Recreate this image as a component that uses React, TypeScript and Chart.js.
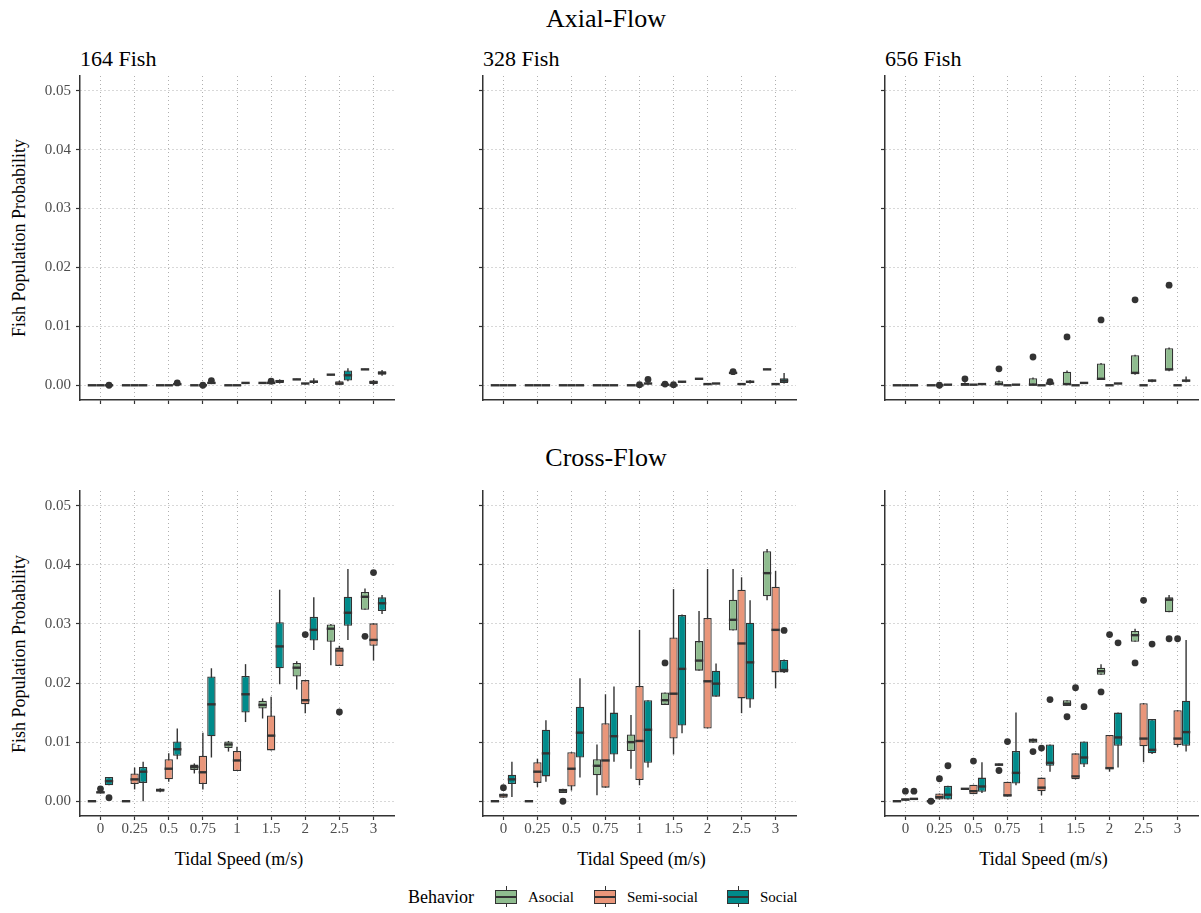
import React, { useEffect, useRef } from 'react';
import { Chart, registerables } from 'chart.js';

Chart.register(...registerables);

const SPEEDS = ['0', '0.25', '0.5', '0.75', '1', '1.5', '2', '2.5', '3'];
const Y_TICKS = [0, 0.01, 0.02, 0.03, 0.04, 0.05];
const BEHAVIORS = ['Asocial', 'Semi-social', 'Social'];
const COLORS = ['#8FBC8F', '#E9967A', '#008B8B'];
const DODGE_WIDTH = 0.75;

// Each box: [lower whisker, Q1, median, Q3, upper whisker]
const axial164Asocial = [
  [0, 0, 0, 0, 0], [0, 0, 0, 0, 0], [0, 0, 0, 0, 0], [0, 0, 0, 0, 0], [0, 0, 0, 0, 0],
  [0.0003, 0.0003, 0.0004, 0.0004, 0.0005], [0.0009, 0.0009, 0.001, 0.001, 0.0011],
  [0.0017, 0.0017, 0.0018, 0.0018, 0.0019], [0.0026, 0.0026, 0.0027, 0.0027, 0.0028],
];
const axial164Semi = [
  [0, 0, 0, 0, 0], [0, 0, 0, 0, 0], [0, 0, 0, 0, 0], [0, 0, 0, 0, 0], [0, 0, 0, 0, 0],
  [0.0002, 0.0003, 0.0004, 0.0005, 0.0006], [0.0001, 0.0002, 0.0003, 0.0003, 0.0004],
  [0, 0.0001, 0.0003, 0.0007, 0.0008], [0, 0.0002, 0.0005, 0.0008, 0.0009],
];
const axial164Social = [
  [0, 0, 0, 0, 0], [0, 0, 0, 0.0001, 0.0001], [0, 0.0001, 0.0002, 0.0003, 0.0003],
  [0.0002, 0.0003, 0.0004, 0.0005, 0.0006], [0.0002, 0.0003, 0.0004, 0.0004, 0.0005],
  [0.0003, 0.0004, 0.0007, 0.0009, 0.001], [0.0002, 0.0004, 0.0006, 0.0008, 0.0012],
  [0.0007, 0.0008, 0.0017, 0.0025, 0.0029], [0.0016, 0.0018, 0.0021, 0.0024, 0.0026],
];
// [speed index, behavior index, value]
const axial164Outliers = [
  [0, 2, 0], [2, 2, 0.0004], [3, 1, 0], [3, 2, 0.0008], [5, 1, 0.0007],
];

const axial328Asocial = [
  [0, 0, 0, 0, 0], [0, 0, 0, 0, 0], [0, 0, 0, 0, 0], [0, 0, 0, 0, 0], [0, 0, 0, 0, 0],
  [0, 0.0001, 0.0001, 0.0002, 0.0002], [0.001, 0.001, 0.0011, 0.0011, 0.0012],
  [0.0019, 0.002, 0.0021, 0.0022, 0.0022], [0.0026, 0.0026, 0.0027, 0.0027, 0.0028],
];
const axial328Semi = [
  [0, 0, 0, 0, 0], [0, 0, 0, 0, 0], [0, 0, 0, 0, 0], [0, 0, 0, 0, 0], [0, 0, 0, 0, 0],
  [0, 0, 0, 0, 0], [0.0001, 0.0001, 0.0002, 0.0002, 0.0003],
  [0.0001, 0.0001, 0.0002, 0.0002, 0.0003], [0.0001, 0.0002, 0.0002, 0.0003, 0.0003],
];
const axial328Social = [
  [0, 0, 0, 0, 0], [0, 0, 0, 0, 0], [0, 0, 0, 0, 0], [0, 0, 0, 0, 0],
  [0.0001, 0.0002, 0.0003, 0.0004, 0.0005], [0.0004, 0.0005, 0.0006, 0.0006, 0.0007],
  [0.0002, 0.0002, 0.0003, 0.0003, 0.0004], [0.0003, 0.0004, 0.0006, 0.0007, 0.0009],
  [0.0003, 0.0004, 0.0008, 0.0012, 0.0021],
];
const axial328Outliers = [
  [4, 1, 0.0001], [4, 2, 0.001], [5, 0, 0.0002], [5, 1, 0.0001], [7, 0, 0.0023],
];

const axial656Asocial = [
  [0, 0, 0, 0, 0], [0, 0, 0, 0, 0], [0, 0, 0.0001, 0.0004, 0.0005],
  [0, 0, 0.0002, 0.0007, 0.0008], [0, 0, 0.0001, 0.0012, 0.0013],
  [0, 0.0001, 0.0002, 0.0023, 0.0025], [0.0009, 0.001, 0.0011, 0.0037, 0.0038],
  [0.0018, 0.0019, 0.0021, 0.0051, 0.0052], [0.0024, 0.0025, 0.0027, 0.0063, 0.0064],
];
const axial656Semi = [
  [0, 0, 0, 0, 0], [0, 0, 0, 0, 0], [0, 0, 0.0001, 0.0001, 0.0002], [0, 0, 0, 0, 0],
  [0, 0, 0, 0, 0], [0, 0, 0, 0, 0], [0, 0, 0, 0, 0], [0, 0, 0, 0, 0], [0, 0, 0, 0, 0],
];
const axial656Social = [
  [0, 0, 0, 0, 0], [0, 0, 0.0001, 0.0001, 0.0002], [0.0001, 0.0001, 0.0002, 0.0003, 0.0003],
  [0, 0, 0.0001, 0.0001, 0.0002], [0.0001, 0.0002, 0.0003, 0.0003, 0.0004],
  [0.0002, 0.0003, 0.0004, 0.0004, 0.0005], [0.0002, 0.0002, 0.0003, 0.0004, 0.0004],
  [0.0005, 0.0006, 0.0008, 0.0009, 0.001], [0.0005, 0.0006, 0.0008, 0.0009, 0.0015],
];
const axial656Outliers = [
  [1, 1, 0], [2, 0, 0.0011], [3, 0, 0.0028], [4, 0, 0.0048], [4, 2, 0.0006],
  [5, 0, 0.0082], [6, 0, 0.0111], [7, 0, 0.0145], [8, 0, 0.017],
];

const cross164Asocial = [
  [0, 0, 0, 0, 0], [0, 0, 0, 0, 0], [0.0015, 0.0016, 0.0019, 0.0021, 0.0022],
  [0.0047, 0.0053, 0.0058, 0.0062, 0.0064], [0.0084, 0.009, 0.0096, 0.0101, 0.0102],
  [0.014, 0.0157, 0.0163, 0.017, 0.0174], [0.0189, 0.0211, 0.0226, 0.0234, 0.0237],
  [0.023, 0.027, 0.0292, 0.0299, 0.03], [0.0324, 0.0324, 0.0346, 0.0354, 0.036],
];
const cross164Semi = [
  [0.0013, 0.0014, 0.0015, 0.0017, 0.0018], [0.002, 0.0029, 0.0037, 0.0047, 0.0057],
  [0.0033, 0.0037, 0.0055, 0.0071, 0.0081], [0.002, 0.0029, 0.0049, 0.0077, 0.0116],
  [0.0051, 0.0051, 0.0069, 0.0085, 0.0092], [0.0086, 0.0086, 0.0111, 0.0145, 0.0177],
  [0.0149, 0.0164, 0.0171, 0.0205, 0.0205], [0.0229, 0.0229, 0.0255, 0.026, 0.0263],
  [0.0238, 0.0263, 0.0273, 0.0301, 0.0301],
];
const cross164Social = [
  [0.0027, 0.0027, 0.0034, 0.0041, 0.0041], [0, 0.0031, 0.005, 0.0058, 0.0067],
  [0.0071, 0.0077, 0.0088, 0.0101, 0.0123], [0.0074, 0.011, 0.0164, 0.0211, 0.0225],
  [0.0134, 0.015, 0.0181, 0.0212, 0.0232], [0.0198, 0.0225, 0.0262, 0.0303, 0.0358],
  [0.0256, 0.0272, 0.029, 0.0312, 0.0345], [0.0273, 0.0297, 0.0319, 0.0346, 0.0393],
  [0.0317, 0.0322, 0.0335, 0.0345, 0.0349],
];
const cross164Outliers = [
  [0, 1, 0.0021], [0, 2, 0.0006], [6, 1, 0.0282], [7, 1, 0.0151], [8, 0, 0.0279], [8, 1, 0.0387],
];

const cross328Asocial = [
  [0, 0, 0, 0, 0], [0, 0, 0, 0, 0], [0.0014, 0.0014, 0.0018, 0.0021, 0.0021],
  [0.001, 0.0044, 0.006, 0.0071, 0.0096], [0.0055, 0.0085, 0.01, 0.0113, 0.0146],
  [0.0163, 0.0163, 0.0171, 0.0184, 0.0184], [0.0221, 0.0221, 0.0238, 0.0271, 0.0322],
  [0.0289, 0.0289, 0.0307, 0.0341, 0.0393], [0.034, 0.0347, 0.0386, 0.0423, 0.0427],
];
const cross328Semi = [
  [0.0006, 0.0006, 0.001, 0.0013, 0.0013], [0.0024, 0.0031, 0.005, 0.0066, 0.0072],
  [0.0018, 0.0025, 0.0055, 0.0083, 0.0083], [0.0023, 0.0023, 0.0069, 0.0132, 0.0181],
  [0.0027, 0.0036, 0.0102, 0.0195, 0.029], [0.0079, 0.0106, 0.0182, 0.0277, 0.0359],
  [0.0123, 0.0123, 0.0203, 0.031, 0.0393], [0.0149, 0.0174, 0.0267, 0.0358, 0.0379],
  [0.0191, 0.0218, 0.029, 0.0363, 0.039],
];
const cross328Social = [
  [0.0007, 0.0029, 0.0037, 0.0045, 0.0067], [0.0033, 0.0042, 0.0081, 0.0121, 0.0137],
  [0.004, 0.0074, 0.0116, 0.016, 0.0208], [0.0067, 0.0079, 0.011, 0.015, 0.0194],
  [0.0057, 0.0065, 0.0121, 0.0171, 0.0171], [0.0115, 0.0128, 0.0224, 0.0315, 0.0316],
  [0.0177, 0.0177, 0.0199, 0.0221, 0.0233], [0.0158, 0.0172, 0.0235, 0.0302, 0.034],
  [0.0217, 0.0218, 0.0222, 0.0239, 0.024],
];
const cross328Outliers = [
  [0, 1, 0.0023], [2, 0, 0], [5, 0, 0.0234], [8, 2, 0.0289],
];

const cross656Asocial = [
  [0, 0, 0, 0, 0], [0, 0, 0, 0, 0], [0.002, 0.002, 0.0021, 0.0022, 0.0022],
  [0.006, 0.006, 0.0062, 0.0064, 0.0064], [0.0099, 0.0099, 0.0103, 0.0106, 0.0106],
  [0.0161, 0.0161, 0.0165, 0.0171, 0.0171], [0.0214, 0.0214, 0.022, 0.0226, 0.0232],
  [0.027, 0.027, 0.0281, 0.0288, 0.0292], [0.032, 0.032, 0.0341, 0.0345, 0.0349],
];
const cross656Semi = [
  [0.0001, 0.0001, 0.0003, 0.0004, 0.0004], [0.0003, 0.0003, 0.0007, 0.0013, 0.0013],
  [0.0012, 0.0012, 0.0017, 0.0028, 0.0028], [0.0008, 0.0008, 0.001, 0.0033, 0.0033],
  [0.001, 0.0017, 0.0023, 0.004, 0.004], [0.0037, 0.0037, 0.0042, 0.0081, 0.0081],
  [0.005, 0.0054, 0.0056, 0.0112, 0.0112], [0.0066, 0.0093, 0.0106, 0.0166, 0.0166],
  [0.0092, 0.0095, 0.0106, 0.0154, 0.0154],
];
const cross656Social = [
  [0.0002, 0.0002, 0.0004, 0.0005, 0.0005], [0.0003, 0.0003, 0.0011, 0.0026, 0.0026],
  [0.0014, 0.0016, 0.0025, 0.004, 0.0066], [0.0027, 0.003, 0.0048, 0.0085, 0.015],
  [0.005, 0.006, 0.0065, 0.0096, 0.0096], [0.0058, 0.0062, 0.0074, 0.0101, 0.0101],
  [0.0057, 0.0094, 0.0108, 0.015, 0.015], [0.008, 0.0081, 0.0087, 0.0139, 0.0139],
  [0.0084, 0.0094, 0.0117, 0.017, 0.0273],
];
const cross656Outliers = [
  [0, 1, 0.0017], [0, 2, 0.0017], [1, 0, 0], [1, 1, 0.0038], [1, 2, 0.006],
  [2, 1, 0.0068], [3, 0, 0.0052], [3, 1, 0.0101], [4, 0, 0.0084], [4, 1, 0.009],
  [4, 2, 0.0172], [5, 0, 0.0143], [5, 1, 0.0192], [5, 2, 0.016], [6, 0, 0.0185],
  [6, 1, 0.0282], [6, 2, 0.0268], [7, 0, 0.0234], [7, 1, 0.034], [7, 2, 0.0266],
  [8, 0, 0.0275], [8, 1, 0.0275],
];

const FONT = '"Liberation Serif", "Times New Roman", Times, serif';
const DARK = '#333333';

const boxplotPlugin = {
  id: 'boxplotParts',
  beforeDatasetsDraw(chart: any) {
    const y = chart.scales.y;
    const ctx = chart.ctx;
    chart.data.datasets.forEach((ds: any, di: number) => {
      if (!ds.stats) return;
      const meta = chart.getDatasetMeta(di);
      ctx.save();
      ctx.strokeStyle = DARK;
      ctx.lineWidth = 1.4;
      meta.data.forEach((el: any, i: number) => {
        const s = ds.stats[i];
        if (s[0] === s[4]) return;
        ctx.beginPath();
        ctx.moveTo(el.x, y.getPixelForValue(s[0]));
        ctx.lineTo(el.x, y.getPixelForValue(s[4]));
        ctx.stroke();
      });
      ctx.restore();
    });
  },
  afterDatasetsDraw(chart: any) {
    const y = chart.scales.y;
    const ctx = chart.ctx;
    chart.data.datasets.forEach((ds: any, di: number) => {
      if (!ds.stats) return;
      const meta = chart.getDatasetMeta(di);
      ctx.save();
      ctx.strokeStyle = DARK;
      ctx.lineWidth = 2.4;
      meta.data.forEach((el: any, i: number) => {
        const s = ds.stats[i];
        const py = y.getPixelForValue(s[2]);
        ctx.beginPath();
        ctx.moveTo(el.x - el.width / 2, py);
        ctx.lineTo(el.x + el.width / 2, py);
        ctx.stroke();
      });
      ctx.restore();
    });
  },
};

const Y_LABEL_W = 60;
const TOP_PAD = 14;
const X_AXIS_H = 30;

type PanelProps = {
  left: number; top: number; plotW: number; plotH: number;
  stats: number[][][]; outliers: number[][]; showY: boolean; showX: boolean;
};

function Panel({ left, top, plotW, plotH, stats, outliers, showY, showX }: PanelProps) {
  const ref = useRef<HTMLCanvasElement>(null);
  const cw = Y_LABEL_W + plotW;
  const ch = TOP_PAD + plotH + X_AXIS_H;
  useEffect(() => {
    if (!ref.current) return;
    const datasets: any[] = stats.map((s, g) => ({
      type: 'bar',
      label: BEHAVIORS[g],
      data: s.map((v, i) => ({ x: i, y: [v[1], v[3]] })),
      stats: s,
      backgroundColor: COLORS[g],
      borderColor: DARK,
      borderWidth: 1.3,
      borderSkipped: false,
      categoryPercentage: DODGE_WIDTH,
      barPercentage: 0.98,
      order: 1,
    }));
    datasets.push({
      type: 'scatter',
      label: 'outliers',
      data: outliers.map(([c, g, v]) => ({ x: c + (g - 1) * (DODGE_WIDTH / 3), y: v })),
      pointRadius: 3.4,
      pointBackgroundColor: DARK,
      pointBorderWidth: 0,
      showLine: false,
      order: 0,
    });
    const gridCommon = {
      color: '#b0b0b0',
      lineWidth: 1,
      tickLength: 4,
      tickColor: DARK,
      tickWidth: 1.2,
      offset: false,
    };
    const borderCommon = { display: true, color: DARK, width: 1.5, dash: [1, 3] };
    const chart = new Chart(ref.current, {
      type: 'bar',
      data: { datasets },
      plugins: [boxplotPlugin],
      options: {
        responsive: false,
        animation: false,
        events: [],
        layout: { padding: { top: TOP_PAD, left: 0, right: 0, bottom: 0 } },
        plugins: { legend: { display: false }, title: { display: false }, tooltip: { enabled: false } },
        scales: {
          x: {
            type: 'linear',
            min: -0.6,
            max: SPEEDS.length - 1 + 0.6,
            offset: false,
            afterBuildTicks: (s: any) => { s.ticks = SPEEDS.map((_, i) => ({ value: i })); },
            afterFit: (s: any) => { s.height = X_AXIS_H; },
            ticks: {
              autoSkip: false,
              maxRotation: 0,
              padding: 0,
              color: '#4d4d4d',
              font: { family: FONT, size: 15 },
              callback: (_v: any, i: number) => (showX ? SPEEDS[i] : ''),
            },
            grid: gridCommon,
            border: borderCommon,
          },
          y: {
            type: 'linear',
            min: -0.0025,
            max: 0.0525,
            afterBuildTicks: (s: any) => { s.ticks = Y_TICKS.map((v) => ({ value: v })); },
            afterFit: (s: any) => { s.width = Y_LABEL_W; },
            ticks: {
              padding: 5,
              color: '#4d4d4d',
              font: { family: FONT, size: 15 },
              callback: (v: any) => (showY ? Number(v).toFixed(2) : ''),
            },
            grid: gridCommon,
            border: borderCommon,
          },
        },
      } as any,
    });
    return () => chart.destroy();
  }, []);
  return (
    <canvas
      ref={ref}
      width={cw}
      height={ch}
      style={{ position: 'absolute', left: left - Y_LABEL_W, top: top - TOP_PAD, width: cw, height: ch }}
    />
  );
}

const COLS = [
  { left: 80, w: 318, title: '164 Fish' },
  { left: 483, w: 317, title: '328 Fish' },
  { left: 885, w: 317, title: '656 Fish' },
];
const ROWS = [
  { top: 76, h: 324 },
  { top: 491, h: 325 },
];

const TOP_STATS = [
  [axial164Asocial, axial164Semi, axial164Social],
  [axial328Asocial, axial328Semi, axial328Social],
  [axial656Asocial, axial656Semi, axial656Social],
];
const TOP_OUT = [axial164Outliers, axial328Outliers, axial656Outliers];
const BOT_STATS = [
  [cross164Asocial, cross164Semi, cross164Social],
  [cross328Asocial, cross328Semi, cross328Social],
  [cross656Asocial, cross656Semi, cross656Social],
];
const BOT_OUT = [cross164Outliers, cross328Outliers, cross656Outliers];

const textBase: React.CSSProperties = {
  position: 'absolute',
  fontFamily: FONT,
  whiteSpace: 'nowrap',
  color: '#000',
};

function LegendKey({ left, color }: { left: number; color: string }) {
  return (
    <div style={{ position: 'absolute', left, top: 886, width: 22, height: 21 }}>
      <div style={{ position: 'absolute', left: 10.5, top: 0, width: 1.2, height: 21, background: DARK }} />
      <div
        style={{
          position: 'absolute', left: 0, top: 3.5, width: 22, height: 14,
          background: color, border: `1.2px solid ${DARK}`, boxSizing: 'border-box',
        }}
      />
      <div style={{ position: 'absolute', left: 0, top: 9.5, width: 22, height: 2.2, background: DARK }} />
    </div>
  );
}

export default function App() {
  return (
    <div
      style={{
        position: 'absolute', left: 0, top: 0, width: 1201, height: 913,
        overflow: 'hidden', background: '#fff',
      }}
    >
      <div style={{ ...textBase, left: 606, top: 6, fontSize: 26, lineHeight: '26px', transform: 'translateX(-50%)' }}>
        Axial-Flow
      </div>
      <div style={{ ...textBase, left: 606, top: 445, fontSize: 26, lineHeight: '26px', transform: 'translateX(-50%)' }}>
        Cross-Flow
      </div>
      {COLS.map((c) => (
        <div key={c.title} style={{ ...textBase, left: c.left, top: 48, fontSize: 22, lineHeight: '22px' }}>
          {c.title}
        </div>
      ))}
      {[238, 653.5].map((cy) => (
        <div
          key={cy}
          style={{
            ...textBase, left: 18.5, top: cy, fontSize: 18, lineHeight: '18px',
            transform: 'translate(-50%, -50%) rotate(-90deg)',
          }}
        >
          Fish Population Probability
        </div>
      ))}
      {COLS.map((c) => (
        <div
          key={'xt' + c.title}
          style={{ ...textBase, left: c.left + c.w / 2, top: 850, fontSize: 18, lineHeight: '18px', transform: 'translateX(-50%)' }}
        >
          Tidal Speed (m/s)
        </div>
      ))}
      {COLS.map((c, ci) => (
        <Panel
          key={'top' + ci}
          left={c.left}
          top={ROWS[0].top}
          plotW={c.w}
          plotH={ROWS[0].h}
          stats={TOP_STATS[ci]}
          outliers={TOP_OUT[ci]}
          showY={ci === 0}
          showX={false}
        />
      ))}
      {COLS.map((c, ci) => (
        <Panel
          key={'bot' + ci}
          left={c.left}
          top={ROWS[1].top}
          plotW={c.w}
          plotH={ROWS[1].h}
          stats={BOT_STATS[ci]}
          outliers={BOT_OUT[ci]}
          showY={ci === 0}
          showX={true}
        />
      ))}
      <div style={{ ...textBase, left: 408, top: 888, fontSize: 18, lineHeight: '18px' }}>Behavior</div>
      <LegendKey left={495} color={COLORS[0]} />
      <div style={{ ...textBase, left: 528, top: 889.5, fontSize: 15, lineHeight: '15px' }}>{BEHAVIORS[0]}</div>
      <LegendKey left={594} color={COLORS[1]} />
      <div style={{ ...textBase, left: 627, top: 889.5, fontSize: 15, lineHeight: '15px' }}>{BEHAVIORS[1]}</div>
      <LegendKey left={727} color={COLORS[2]} />
      <div style={{ ...textBase, left: 760, top: 889.5, fontSize: 15, lineHeight: '15px' }}>{BEHAVIORS[2]}</div>
    </div>
  );
}
